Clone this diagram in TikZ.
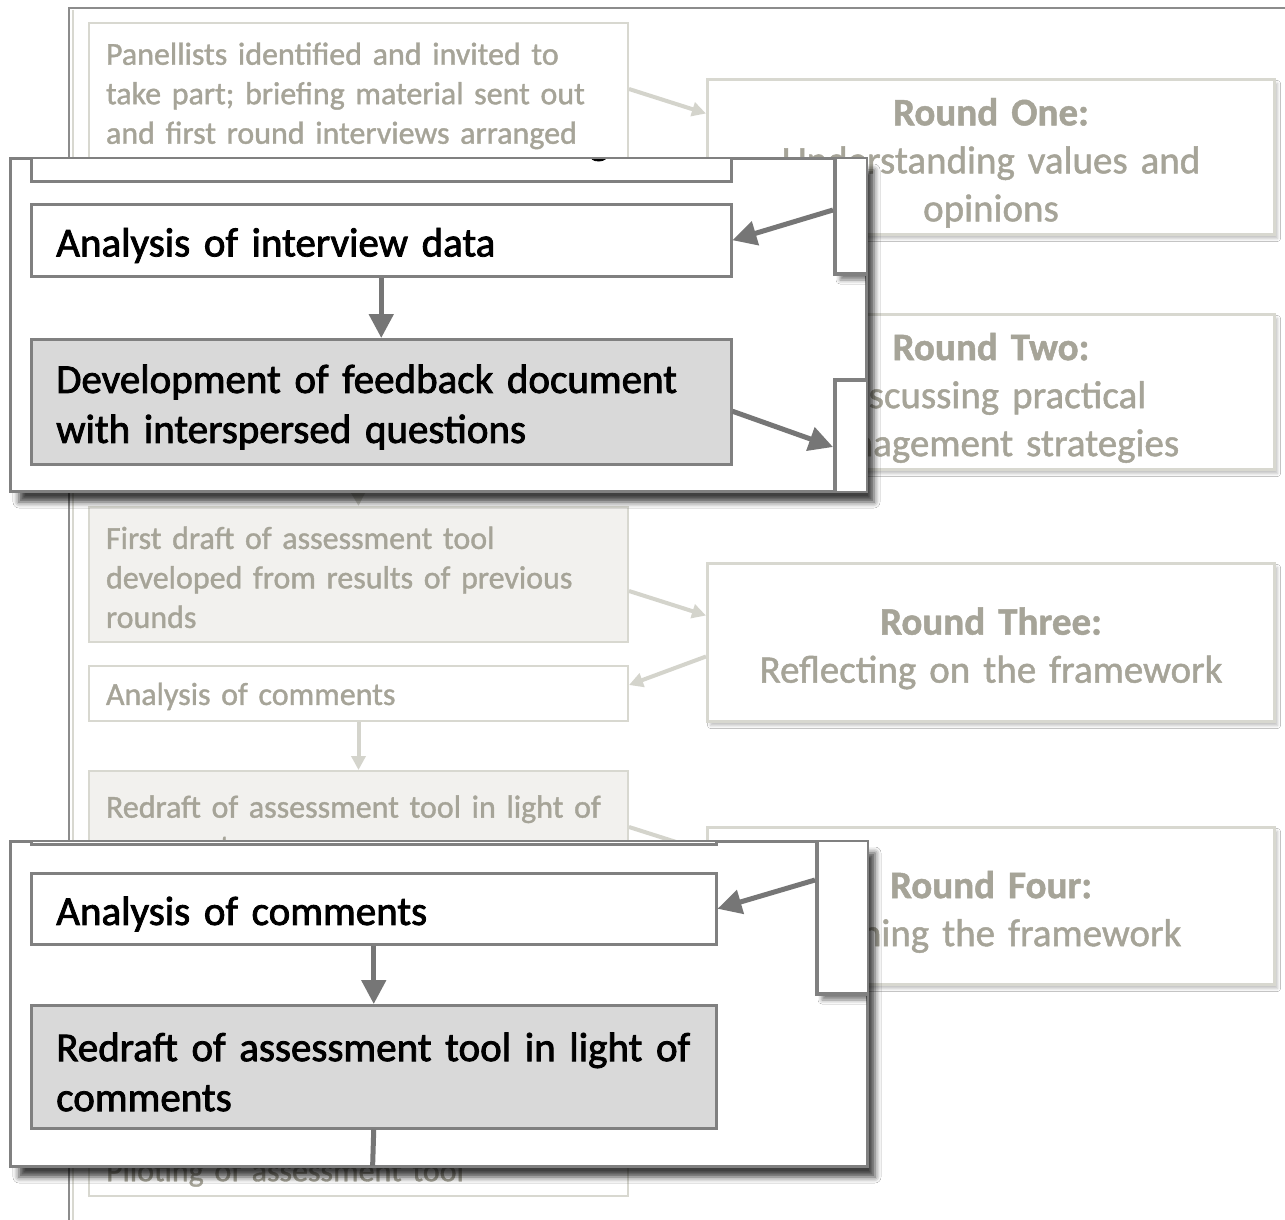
\documentclass[tikz,border=0pt]{standalone}
\usepackage{fontspec}
\setmainfont{Carlito}
\newfontfamily\ovfont[FakeBold=2]{Carlito}
\newfontfamily\bgfont[FakeBold=1.2]{Carlito}
\usetikzlibrary{arrows.meta,shadows.blur}
\definecolor{bgtext}{RGB}{166,164,152}
\definecolor{bgline}{RGB}{216,216,208}
\definecolor{bgfill}{RGB}{242,241,238}
\definecolor{bgarrow}{RGB}{212,212,204}
\definecolor{ovline}{RGB}{128,128,128}
\definecolor{ovfill}{RGB}{217,217,217}
\definecolor{ovarrow}{RGB}{118,118,118}
\definecolor{framecol}{RGB}{140,140,140}
\begin{document}
\begin{tikzpicture}[x=1pt,y=-1pt,
  bgbox/.style={draw=bgline, line width=2pt, fill=white, text=bgtext, anchor=north west,
    inner xsep=17pt, inner ysep=0pt, align=left, font=\bgfont\fontsize{32}{39.5}\selectfont,
    execute at begin node={\rule{0pt}{28pt}}},
  roundbox/.style={draw=bgline, line width=3pt, fill=white, text=bgtext, anchor=north west,
    inner xsep=10pt, align=center, font=\bgfont\fontsize{39}{48}\selectfont,
    execute at begin node={\rule{0pt}{39pt}},
    blur shadow={shadow xshift=3pt, shadow yshift=-4pt, shadow opacity=25, shadow blur radius=3pt}},
  bgarr/.style={draw=bgarrow, line width=4pt, -{Triangle[length=14pt,width=14pt]}},
  ovpanel/.style={draw=ovline, line width=2pt, fill=white, anchor=north west, inner sep=0pt,
    blur shadow={shadow xshift=8pt, shadow yshift=-11pt, shadow opacity=75, shadow blur radius=6pt}},
  ovbox/.style={draw=ovline, line width=2.5pt, fill=white, text=black, anchor=north west,
    inner xsep=25pt, inner ysep=0pt, align=left, font=\ovfont\fontsize{41}{50}\selectfont,
    execute at begin node={\rule{0pt}{39pt}}},
  ovside/.style={draw=ovline, line width=4pt, fill=white, anchor=north west, inner sep=0pt,
    blur shadow={shadow xshift=5pt, shadow yshift=-6pt, shadow opacity=50, shadow blur radius=4pt}},
  ovarr/.style={draw=ovarrow, line width=5pt, -{Triangle[length=24pt,width=24pt]}},
]
\useasboundingbox (0,0) rectangle (1285,1220);
\fill[white] (0,0) rectangle (1285,1220);

% ---------- background (faded) diagram ----------
\draw[framecol, line width=2pt] (69,1220) -- (69,8) -- (1285,8);
\draw[bgline, line width=1.5pt] (73,10) -- (73,1220);

\node[bgbox, text width=505pt, minimum height=140pt] (A) at (88,22)
  {Panellists identified and invited to\\take part; briefing material sent out\\and first round interviews arranged};
\node[roundbox, text width=547pt, minimum height=155pt] (R1) at (706,78)
  {\textbf{Round One:}\\Understanding values and\\opinions};
\node[roundbox, text width=547pt, minimum height=155pt] (R2) at (706,313)
  {\textbf{Round Two:}\\Discussing practical\\management strategies};
\node[bgbox, fill=bgfill, text width=505pt, minimum height=135pt] (FD) at (88,506)
  {First draft of assessment tool\\developed from results of previous\\rounds};
\node[bgbox, text width=505pt, minimum height=55pt] (ACb) at (88,665)
  {Analysis of comments};
\node[roundbox, text width=547pt, minimum height=158pt] (R3) at (706,562)
  {\textbf{Round Three:}\\Reflecting on the framework};
\node[bgbox, fill=bgfill, text width=505pt, minimum height=105pt] (RDb) at (88,770)
  {Redraft of assessment tool in light of\\comments};
\node[roundbox, text width=547pt, minimum height=157pt] (R4) at (706,826)
  {\textbf{Round Four:}\\Refining the framework};
\node[bgbox, text width=505pt, minimum height=52pt] (PI) at (88,1143)
  {Piloting of assessment tool};

\coordinate (FDin) at (357.5,470);
\draw[bgarr] ([yshift=4pt]A.east) -- ([yshift=43.5pt]R1.west);
\draw[bgarr] (FDin) -- (FD.north);
\draw[bgarr] ([yshift=-16.5pt]FD.east) -- ([yshift=27pt]R3.west);
\draw[bgarr] ([yshift=-14pt]R3.west) -- ([yshift=8.5pt]ACb.east);
\draw[bgarr] (ACb.south) -- (RDb.north);
\draw[bgarr] ([yshift=-3.5pt]RDb.east) -- ([yshift=54.5pt]R4.west);
\draw[bgarr] (RDb.south) -- (PI.north);

% ---------- magnified panel 1 ----------
\node[ovpanel, minimum width=855pt, minimum height=332pt] (P1) at (10,158) {};
\begin{scope}
  \clip (P1.north west) rectangle (P1.south east);
  \node[ovbox, minimum width=700pt, minimum height=80pt] (T1) at (30,100) {};
  \node[anchor=base, inner sep=0pt, font=\ovfont\fontsize{41}{50}\selectfont] (G1) at (599,154) {g};
  \node[ovbox, text width=650pt, minimum height=72pt] (AI) at (30,203) {Analysis of interview data};
  \node[ovbox, fill=ovfill, text width=650pt, minimum height=125pt] (DV) at (30,338)
    {Development of feedback document\\with interspersed questions};
  \node[ovside, minimum width=200pt, minimum height=172pt] (R1p) at (833,100) {};
  \node[ovside, minimum width=200pt, minimum height=200pt] (R2p) at (833,378) {};
  \draw[ovarr] (AI.south) -- (DV.north);
  \draw[ovarr] ([yshift=-22pt]R1p.west) -- (AI.east);
  \draw[ovarr] ([yshift=-9.5pt]DV.east) -- ([yshift=33pt]R2p.west);
\end{scope}
\draw[ovline, line width=2pt] (P1.north west) rectangle (P1.south east);

% ---------- magnified panel 2 ----------
\node[ovpanel, minimum width=856pt, minimum height=324pt] (P2) at (10,841) {};
\begin{scope}
  \clip (P2.north west) rectangle (P2.south east);
  \node[ovbox, minimum width=685pt, minimum height=80pt] (T2) at (30,763) {};
  \node[ovbox, text width=635pt, minimum height=71pt] (AC) at (30,872) {Analysis of comments};
  \node[ovbox, fill=ovfill, text width=635pt, minimum height=123pt] (RD) at (30,1004)
    {Redraft of assessment tool in light of\\comments};
  \node[ovside, minimum width=200pt, minimum height=212pt] (R4p) at (815,780) {};
  \coordinate (E2) at (372.5,1170);
  \draw[ovarr] (AC.south) -- (RD.north);
  \draw[ovarr] ([yshift=8pt]R4p.west) -- (AC.east);
  \draw[draw=ovarrow, line width=5pt] (RD.south) -- (E2);
\end{scope}
\draw[ovline, line width=2pt] (P2.north west) rectangle (P2.south east);
\end{tikzpicture}
\end{document}
